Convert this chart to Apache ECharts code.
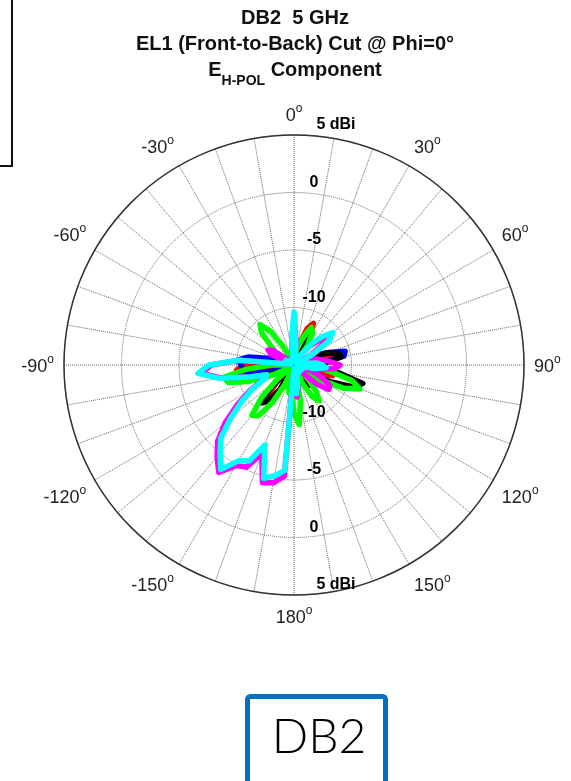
<!DOCTYPE html>
<html><head><meta charset="utf-8">
<script src="https://cdn.jsdelivr.net/npm/echarts@6/dist/echarts.min.js"></script>
<style>html,body{margin:0;padding:0;background:#fff;}#c{width:571px;height:781px;}</style>
</head><body><div id="c"></div>
<script>
const angles = [-180,-175,-170,-165,-160,-155,-150,-145,-140,-135,-130,-125,-120,-115,-110,-105,-100,-95,-90,-85,-80,-75,-70,-65,-60,-55,-50,-45,-40,-35,-30,-25,-20,-15,-10,-5,0,5,10,15,20,25,30,35,40,45,50,55,60,65,70,75,80,85,90,95,100,105,110,115,120,125,130,135,140,145,150,155,160,165,170,175,180];
const angleTicks = [-150,-120,-90,-60,-30,0,30,60,90,120,150,180];
const radiusTicks = [-10,-5,0,5];
const red = [-14.7,-14.7,-14.7,-14.7,-14.7,-14.5,-12.5,-11.5,-11.5,-12.8,-14.7,-14.7,
 -14.7,-14.7,-14.7,-14.2,-10.5,-10.0,-10.8,-12.0,-14.2,-14.7,-14.7,-13.0,
 -12.6,-13.2,-14.7,-14.7,-14.7,-14.7,-14.7,-14.7,-14.7,-14.7,-14.7,-14.7,
 -14.7,-14.7,-14.7,-13.0,-11.6,-11.0,-12.6,-14.5,-14.7,-14.7,-14.7,-14.7,
 -14.7,-14.7,-12.5,-11.5,-11.8,-13.0,-14.7,-14.7,-12.5,-11.5,-12.5,-14.7,
 -14.7,-14.7,-14.7,-14.7,-14.7,-14.7,-14.7,-14.7,-14.7,-14.7,-14.7,-14.7,
 -14.7];
const blue = [-14.7,-14.7,-14.7,-14.7,-14.7,-14.7,-14.7,-14.7,-14.7,-14.7,-14.7,-14.7,
 -14.7,-14.7,-14.7,-13.0,-11.0,-10.5,-10.4,-10.1,-11.0,-12.8,-14.7,-14.7,
 -14.7,-14.7,-14.7,-14.7,-14.7,-14.7,-14.7,-14.7,-14.7,-14.7,-14.7,-14.7,
 -14.7,-14.7,-14.7,-14.3,-12.5,-12.5,-14.3,-14.7,-14.7,-14.7,-14.7,-14.7,
 -14.7,-13.0,-11.8,-10.4,-10.6,-12.5,-14.5,-14.7,-14.7,-14.7,-14.7,-14.7,
 -14.7,-14.7,-14.7,-14.7,-14.7,-14.7,-14.7,-14.7,-14.7,-14.7,-14.7,-14.7,
 -14.7];
const black = [-14.7,-14.7,-14.5,-14.7,-14.7,-14.5,-12.5,-11.2,-10.7,-12.0,-14.5,-14.7,
 -14.7,-14.5,-11.5,-10.0,-9.4,-10.8,-12.5,-14.2,-14.7,-14.7,-14.7,-14.7,
 -14.7,-14.7,-14.7,-14.7,-14.7,-14.7,-14.7,-14.7,-14.7,-14.7,-14.7,-14.7,
 -14.5,-14.7,-14.7,-14.2,-12.4,-12.2,-13.0,-14.7,-14.7,-14.7,-14.7,-14.7,
 -14.7,-14.2,-12.0,-11.0,-10.8,-12.0,-14.2,-13.0,-11.0,-8.8,-9.3,-11.5,
 -14.2,-14.7,-14.7,-14.7,-13.0,-12.8,-14.2,-14.7,-14.7,-14.7,-14.7,-14.7,
 -14.7];
const green = [-10.8,-12.8,-12.5,-13.2,-14.7,-13.2,-11.2,-9.6,-9.3,-11.0,-13.2,-14.7,
 -14.7,-13.0,-10.8,-9.1,-8.8,-10.8,-13.0,-14.7,-14.7,-14.7,-14.7,-14.5,
 -14.2,-13.0,-12.3,-11.0,-10.4,-11.4,-13.2,-14.7,-14.7,-14.7,-14.7,-14.5,
 -14.2,-14.2,-14.2,-13.0,-12.2,-11.4,-11.8,-13.0,-14.7,-14.7,-14.5,-14.2,
 -14.2,-14.5,-14.7,-14.5,-14.1,-14.3,-14.5,-13.2,-11.8,-9.8,-8.9,-10.2,
 -12.5,-14.5,-14.7,-13.2,-12.0,-11.2,-11.8,-13.2,-14.7,-14.3,-11.8,-9.8,
 -10.8];
const magenta = [-14.7,-5.3,-4.6,-4.4,-6.8,-5.2,-4.9,-3.6,-4.6,-5.6,-7.2,-9.0,
 -10.6,-12.0,-12.5,-11.0,-8.5,-6.9,-7.8,-10.2,-14.5,-14.7,-14.3,-12.8,
 -12.4,-12.8,-14.3,-14.7,-14.7,-14.7,-14.7,-14.7,-14.5,-14.2,-13.9,-12.8,
 -10.8,-13.0,-14.5,-14.7,-14.5,-14.3,-14.2,-13.9,-12.8,-12.0,-11.5,-12.0,
 -13.2,-14.5,-14.3,-13.0,-12.5,-11.8,-11.0,-11.4,-12.8,-14.3,-13.2,-12.2,
 -11.4,-11.3,-12.4,-14.2,-14.7,-14.5,-14.2,-14.5,-14.7,-14.3,-13.0,-12.2,
 -14.7];
const cyan = [-14.7,-5.8,-5.2,-4.8,-7.6,-5.8,-5.4,-3.9,-5.0,-6.0,-7.8,-9.4,
 -10.8,-12.2,-12.5,-11.0,-8.4,-6.6,-7.6,-10.2,-14.5,-14.7,-14.7,-14.5,
 -14.2,-14.5,-14.7,-14.7,-14.5,-14.7,-14.7,-14.7,-14.7,-14.5,-14.2,-12.8,
 -10.4,-13.2,-14.5,-14.7,-14.5,-14.2,-14.2,-13.9,-12.5,-11.5,-10.6,-11.2,
 -13.0,-14.5,-14.7,-14.5,-14.2,-13.0,-12.5,-12.2,-13.2,-14.7,-14.7,-14.5,
 -14.2,-14.5,-14.7,-14.7,-14.7,-14.5,-14.2,-14.5,-14.7,-14.5,-13.2,-12.5,
 -14.7];
const seriesDefs = [
  {name:'red', values:red, color:'#ff0000'},
  {name:'blue', values:blue, color:'#0000ff'},
  {name:'black', values:black, color:'#000000'},
  {name:'green', values:green, color:'#00ff00'},
  {name:'magenta', values:magenta, color:'#ff00ff'},
  {name:'cyan', values:cyan, color:'#00ffff'}
];

const FONT = 'Liberation Sans, Arial, sans-serif';
const CX = 294, CY = 365, R = 230;

const angleFmt = v => {
  if (angleTicks.indexOf(v) < 0 && v !== -180) return '';
  if (v === 180) return '';
  const d = v === -180 ? 180 : v;
  return '{n|' + d + '}{s|o}';
};
const radFmt = v => {
  if (radiusTicks.indexOf(v) < 0) return '';
  return v === 5 ? '{u|5 dBi}' : '{r|' + v + '}';
};
const radRich = {
  r: {fontSize:16, fontWeight:'bold', fontFamily:FONT, color:'#000', lineHeight:20},
  u: {fontSize:16, fontWeight:'bold', fontFamily:FONT, color:'#000', lineHeight:20, padding:[0,0,0,44]}
};

const chart = echarts.init(document.getElementById('c'), null, {renderer:'canvas'});
chart.setOption({
  animation:false,
  backgroundColor:'#fff',
  polar:[{center:[CX,CY], radius:R},{center:[CX,CY], radius:R}],
  angleAxis:[
    {polarIndex:0, type:'value', min:-180, max:180, interval:10, startAngle:270, clockwise:true,
     axisLine:{show:true, lineStyle:{color:'#333', width:1.5}},
     axisTick:{show:false},
     axisLabel:{show:true, margin:10, formatter:angleFmt, color:'#222',
       rich:{n:{fontSize:18, fontFamily:FONT, color:'#222', lineHeight:22, verticalAlign:'bottom'},
             s:{fontSize:12, fontFamily:FONT, color:'#222', lineHeight:12, verticalAlign:'top'}}},
     splitLine:{show:true, lineStyle:{type:'dotted', color:'#666', width:1}}},
    {polarIndex:1, type:'value', min:0, max:360, startAngle:90, clockwise:true,
     axisLine:{show:false}, axisTick:{show:false}, axisLabel:{show:false}, splitLine:{show:false}}
  ],
  radiusAxis:[
    {polarIndex:0, type:'value', min:-15, max:5, interval:5,
     axisLine:{show:false}, axisTick:{show:false},
     axisLabel:{show:true, margin:20, align:'center', verticalAlign:'bottom', formatter:radFmt, rich:radRich},
     splitLine:{show:true, lineStyle:{type:'dotted', color:'#666', width:1}}},
    {polarIndex:1, type:'value', min:-15, max:5, interval:5,
     axisLine:{show:false}, axisTick:{show:false},
     axisLabel:{show:true, margin:-20, align:'center', verticalAlign:'bottom', formatter:radFmt, rich:radRich},
     splitLine:{show:false}}
  ],
  series: seriesDefs.map(s => ({
    name:s.name, type:'line', coordinateSystem:'polar', polarIndex:0,
    symbol:'none', smooth:false, clip:false,
    lineStyle:{color:s.color, width:5.5, join:'round', cap:'round'},
    data: angles.map((a,i) => [s.values[i], a])
  })),
  graphic:[
    {type:'polyline', shape:{points:[[12,0],[12,166],[0,166]]}, style:{stroke:'#111', lineWidth:2, fill:null}},
    {type:'text', x:295, y:8, style:{text:'DB2  5 GHz', font:'bold 20px ' + FONT, fill:'#111', align:'center'}},
    {type:'text', x:295, y:34, style:{text:'EL1 (Front-to-Back) Cut @ Phi=0°', font:'bold 20px ' + FONT, fill:'#111', align:'center'}},
    {type:'text', x:295, y:60, style:{text:'{e|E}{b|H-POL}{e| Component}', align:'center', fill:'#111',
      rich:{e:{fontSize:20, fontWeight:'bold', fontFamily:FONT, fill:'#111', lineHeight:22, verticalAlign:'top'},
            b:{fontSize:14, fontWeight:'bold', fontFamily:FONT, fill:'#111', lineHeight:16, padding:[14,0,0,0], verticalAlign:'top'}}}},
    {type:'rect', shape:{x:247.5, y:696.5, width:138, height:120, r:3}, style:{stroke:'#0070c0', lineWidth:5, fill:'#fff'}},
    {type:'text', x:319, y:738, style:{text:'DB2', font:'300 48px Lato, sans-serif', fill:'#000', align:'center', verticalAlign:'middle'}}
  ]
});
</script>
</body></html>
